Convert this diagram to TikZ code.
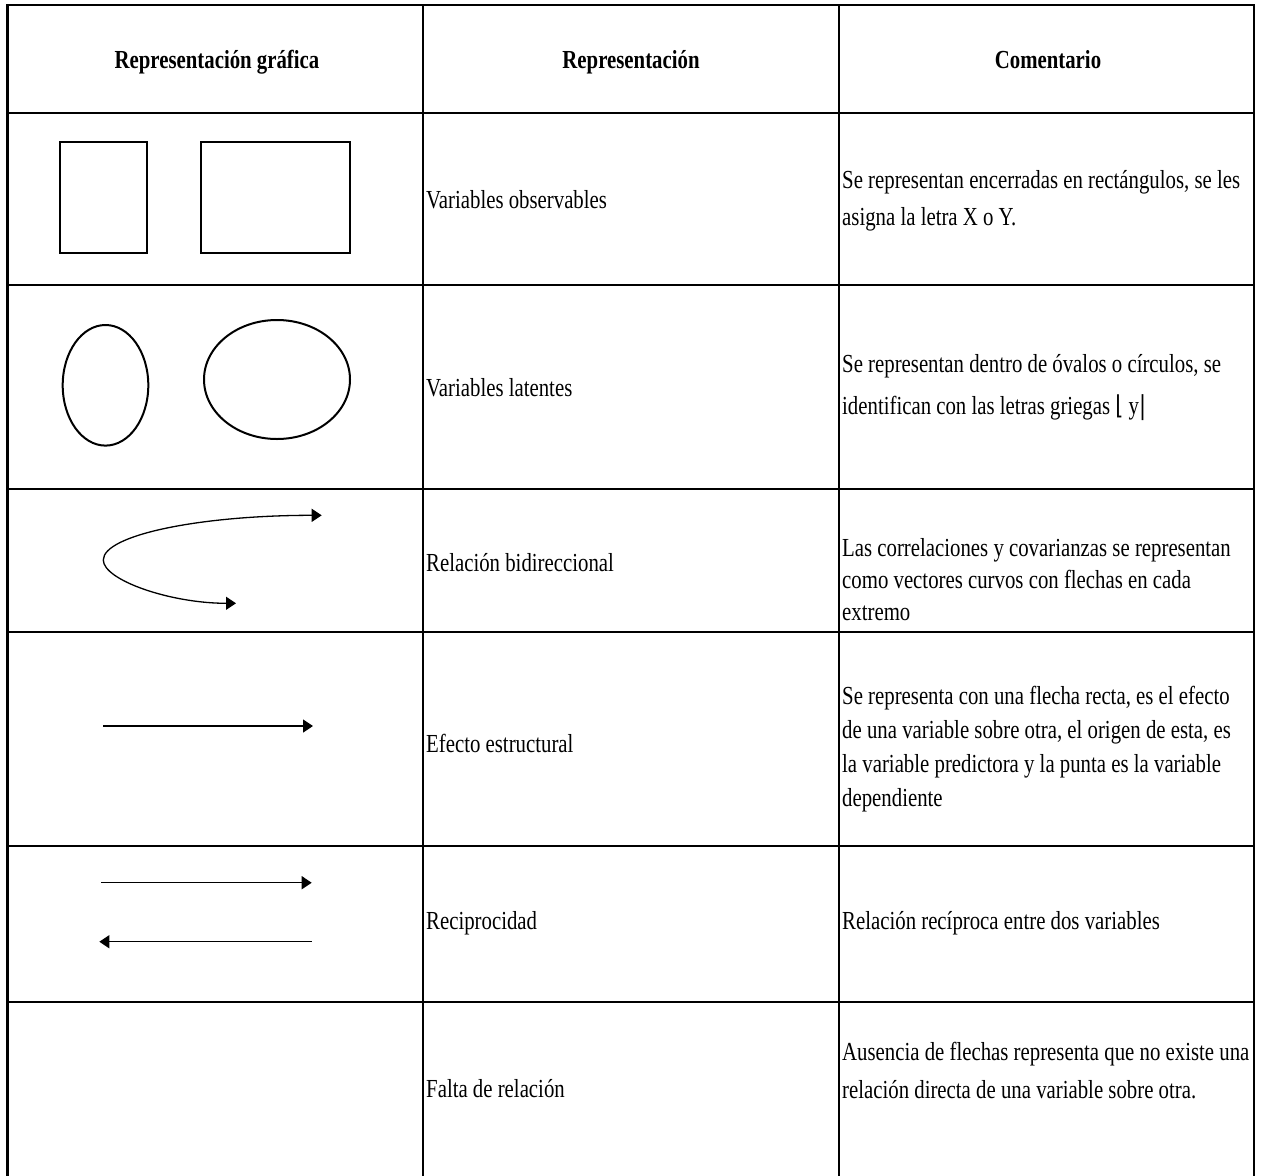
\documentclass[tikz,border=0pt]{standalone}
\usepackage{fontspec}
\setmainfont{Liberation Serif}[FakeStretch=0.80]
\newfontfamily\symfont{DejaVu Sans}[FakeStretch=0.80]
\usetikzlibrary{arrows.meta}

\begin{document}
\begin{tikzpicture}[x=1pt,y=-1pt,
  rule/.style={line width=2.7pt, line cap=rect},
  figline/.style={line width=2pt},
  boxline/.style={line width=2.5pt},
  hdr/.style={font=\fontsize{26}{32}\selectfont\bfseries, inner sep=0, anchor=base},
  reptext/.style={font=\fontsize{26}{32}\selectfont, inner sep=0, anchor=west},
  cmt/.style={font=\fontsize{26}{#1}\selectfont, inner sep=0, anchor=west, align=left},
  onearrow/.style={line width=1.3pt, -{Triangle[length=10pt,width=13pt]}},
  twoarrow/.style={line width=1.3pt, {Triangle[length=10pt,width=13pt]}-{Triangle[length=10pt,width=13pt]}},
]
\useasboundingbox (0,0) rectangle (1263,1175);

% table rules
\foreach \yy in {5,113,285,489,632,846,1002}
  \draw[rule] (7.5,\yy) -- (1254,\yy);
\foreach \xx in {7.5,423,839,1254}
  \draw[rule] (\xx,5) -- (\xx,1175);

% header
\node[hdr] (h1) at (217,68) {Representación gráfica};
\node[hdr] (h2) at (631,68) {Representación};
\node[hdr] (h3) at (1048,68) {Comentario};

% second column
\node[reptext] (t1) at (426,200) {Variables observables};
\node[reptext] (t2) at (426,388) {Variables latentes};
\node[reptext] (t3) at (426,563) {Relación bidireccional};
\node[reptext] (t4) at (426,743) {Efecto estructural};
\node[reptext] (t5) at (426,923) {Reciprocidad};
\node[reptext] (t6) at (426,1089) {Falta de relación};

% third column
\node[cmt=37] (c1) at (842,200.5) {Se representan encerradas en rectángulos, se les\\asigna la letra X o Y.};
\node[cmt=42] (c2) at (842,388) {Se representan dentro de óvalos o círculos, se\\identifican con las letras griegas {\symfont ⌊} y{\symfont |}};
\node[cmt=32] (c3) at (842,580) {Las correlaciones y covarianzas se representan\\como vectores curvos con flechas en cada\\extremo};
\node[cmt=34] (c4) at (842,749) {Se representa con una flecha recta, es el efecto\\de una variable sobre otra, el origen de esta, es\\la variable predictora y la punta es la variable\\dependiente};
\node[reptext] (c5) at (842,923) {Relación recíproca entre dos variables};
\node[cmt=38] (c6) at (842,1071) {Ausencia de flechas representa que no existe una\\relación directa de una variable sobre otra.};

% observed variables
\draw[boxline] (60,142) rectangle (147,253);
\draw[boxline] (201,142) rectangle (350,253);

% latent variables
\draw[figline] (105.5,385.3) ellipse [x radius=42.8, y radius=60.3];
\draw[figline] (277,379.5) ellipse [x radius=73, y radius=59.5];

% bidirectional relation
\coordinate (bt) at (236,603.3);
\coordinate (bl) at (103.3,560);
\coordinate (tt) at (321.7,515.3);
\draw[twoarrow] (bt) .. controls (170,603.3) and (103.3,580) .. (bl)
                     .. controls (103.3,535) and (200,515.3) .. (tt);

% structural effect
\coordinate (s0) at (103,726);
\coordinate (s1) at (313,726);
\draw[onearrow] (s0) -- (s1);

% reciprocity
\coordinate (p0) at (101,882.7);
\coordinate (p1) at (311.7,882.7);
\coordinate (q0) at (311.7,941.7);
\coordinate (q1) at (99.3,941.7);
\draw[onearrow] (p0) -- (p1);
\draw[onearrow] (q0) -- (q1);

\end{tikzpicture}
\end{document}
